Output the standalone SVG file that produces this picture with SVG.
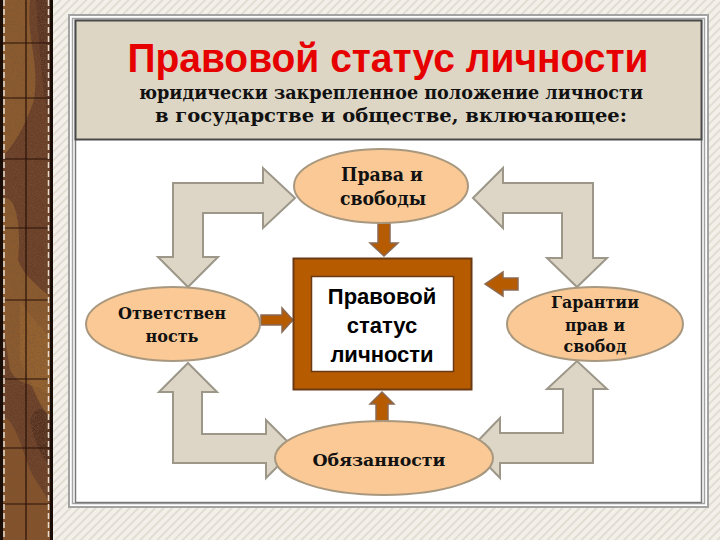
<svg xmlns="http://www.w3.org/2000/svg" width="720" height="540" viewBox="0 0 720 540">
<defs>
  <pattern id="hatch" width="6" height="6" patternUnits="userSpaceOnUse" patternTransform="rotate(45)">
    <rect width="6" height="6" fill="#f3f0ea"/>
    <rect width="2" height="6" fill="#e2ddd3"/>
  </pattern>
  <filter id="grain" x="0" y="0" width="100%" height="100%" filterUnits="objectBoundingBox">
    <feTurbulence type="fractalNoise" baseFrequency="1.1" numOctaves="2" seed="5" result="n"/>
    <feColorMatrix in="n" type="matrix" values="0 0 0 0 0.18  0 0 0 0 0.09  0 0 0 0 0.04  1.6 0 0 0 -0.6"/>
  </filter>
  <style>
    .ell { fill: #fbc995; stroke: #a8987f; stroke-width: 2; }
    .gray { fill: #ddd6c6; stroke: #9d978a; stroke-width: 2; stroke-linejoin: miter; }
    .brn { fill: #b65b00; stroke: #8a6a55; stroke-width: 1.5; }
    .slab { font-family: "DejaVu Serif", "Liberation Serif", serif; font-weight: bold; fill: #111; text-anchor: middle; }
    .sans { font-family: "Liberation Sans", Arial, sans-serif; font-weight: bold; fill: #000; text-anchor: middle; }
    .grid { stroke: #2a1208; stroke-width: 1.2; }
  </style>
</defs>

<!-- background -->
<rect x="0" y="0" width="720" height="540" fill="url(#hatch)"/>

<!-- left textured strip -->
<g id="strip">
  <rect x="0" y="0" width="53" height="540" fill="#6a3e27"/>
  <path d="M0,0 H30 C26,40 40,60 34,100 C20,140 8,150 0,160 Z" fill="#93602f" opacity="0.85"/>
  <path d="M0,200 C14,190 22,220 18,260 C26,280 44,290 53,300 V400 C40,380 20,390 10,370 C4,330 0,300 0,290 Z" fill="#93602f" opacity="0.85"/>
  <path d="M20,300 C30,320 50,330 53,350 V420 C40,410 30,380 20,360 Z" fill="#9a652f" opacity="0.8"/>
  <path d="M0,420 C10,410 20,440 30,470 C40,490 53,500 53,520 V540 H0 Z" fill="#8a562b" opacity="0.85"/>
  <path d="M30,420 C38,400 50,410 53,430 V470 C45,460 36,450 30,420 Z" fill="#55301f"/>
  <path d="M36,0 H53 V140 C44,110 40,60 36,0 Z" fill="#5a3322"/>
  <rect x="0" y="0" width="53" height="540" fill="#000" filter="url(#grain)"/>
  <g class="grid">
    <line x1="26" y1="0" x2="26" y2="540"/>
    <line x1="2" y1="43" x2="51" y2="43"/>
    <line x1="2" y1="98" x2="51" y2="98"/>
    <line x1="2" y1="159" x2="51" y2="159"/>
    <line x1="2" y1="228" x2="51" y2="228"/>
    <line x1="2" y1="300" x2="51" y2="300"/>
    <line x1="2" y1="379" x2="51" y2="379"/>
    <line x1="2" y1="448" x2="51" y2="448"/>
    <line x1="2" y1="504" x2="51" y2="504"/>
  </g>
  <rect x="0" y="0" width="3" height="540" fill="#1a0c06"/>
  <line x1="4" y1="0" x2="4" y2="540" stroke="#e8ddd0" stroke-width="1.5" stroke-dasharray="6 3"/>
  <line x1="48.5" y1="0" x2="48.5" y2="540" stroke="#e8ddd0" stroke-width="1.5" stroke-dasharray="6 3"/>
  <rect x="50" y="0" width="3" height="540" fill="#1a0c06"/>
</g>

<!-- frame -->
<g id="frame">
  <rect x="69" y="15" width="639" height="492" fill="#ffffff" stroke="#a3a3a3" stroke-width="2"/>
  <rect x="72.5" y="18.5" width="632" height="485" fill="none" stroke="#a3a3a3" stroke-width="1.5"/>
  <rect x="75.5" y="20.5" width="626" height="482" fill="#ffffff" stroke="#7a7a7a" stroke-width="1.5"/>
</g>

<!-- title panel -->
<g id="title">
  <rect x="75.5" y="20.5" width="626" height="119" fill="#ddd6c5" stroke="#4a4a4a" stroke-width="2"/>
  <text x="388" y="72" font-family="'Liberation Sans', Arial, sans-serif" font-weight="bold" font-size="41" fill="#e60000" text-anchor="middle" textLength="521" lengthAdjust="spacingAndGlyphs">Правовой статус личности</text>
  <text class="slab" x="391" y="99" font-size="19" textLength="504" lengthAdjust="spacingAndGlyphs">юридически закрепленное положение личности</text>
  <text class="slab" x="391" y="122" font-size="19" textLength="472" lengthAdjust="spacingAndGlyphs">в государстве и обществе, включающее:</text>
</g>

<!-- connectors -->
<g id="connectors">
  <path class="gray" d="M295,198 L263,168 L263,183 L173,183 L173,257 L158,257 L188,287 L218,257 L203,257 L203,213 L263,213 L263,228 Z"/>
  <path class="gray" d="M473,198 L503,168 L503,183 L593,183 L593,258 L607,258 L577,287 L547,258 L562,258 L562,213 L503,213 L503,228 Z"/>
  <path class="gray" d="M188,363 L217,392 L202,392 L202,434 L266,434 L266,420 L295,449 L266,478 L266,463 L173,463 L173,392 L159,392 Z"/>
  <path class="gray" d="M471,448 L500,418 L500,433 L563,433 L563,389 L547,389 L577,361 L607,389 L593,389 L593,463 L500,463 L500,478 Z"/>
  <path class="brn" d="M378,223 H390 V243 H398 L384,256 L370,243 H378 Z"/>
  <path class="brn" d="M518,278 V290 H503 V296 L485,284 L503,272 V278 Z"/>
  <path class="brn" d="M261,315 H282 V308 L293,320 L282,332 V325 H261 Z"/>
  <path class="brn" d="M376,425 V404 H370 L382,392 L394,404 H388 V425 Z"/>
</g>

<!-- center box -->
<g id="center">
  <rect x="293.5" y="258.5" width="178" height="131" fill="#b65b00" stroke="#6a3a14" stroke-width="2"/>
  <rect x="311.5" y="276.5" width="142" height="95" fill="#ffffff" stroke="#6a3a14" stroke-width="1.5"/>
  <text class="sans" x="382" y="304" font-size="22">Правовой</text>
  <text class="sans" x="382" y="333" font-size="22">статус</text>
  <text class="sans" x="382" y="362" font-size="22">личности</text>
</g>

<g id="rights">
  <ellipse class="ell" cx="381" cy="186" rx="87" ry="37"/>
  <text class="slab" x="382" y="181" font-size="18" textLength="82" lengthAdjust="spacingAndGlyphs">Права и</text>
  <text class="slab" x="383" y="205" font-size="18" textLength="86" lengthAdjust="spacingAndGlyphs">свободы</text>
</g>

<g id="responsibility">
  <ellipse class="ell" cx="173" cy="324" rx="87" ry="37"/>
  <text class="slab" x="172" y="319" font-size="17" textLength="108" lengthAdjust="spacingAndGlyphs">Ответствен</text>
  <text class="slab" x="172" y="342" font-size="17" textLength="53" lengthAdjust="spacingAndGlyphs">ность</text>
</g>

<g id="guarantees">
  <ellipse class="ell" cx="595" cy="324" rx="88" ry="37"/>
  <text class="slab" x="595" y="308" font-size="16" textLength="88" lengthAdjust="spacingAndGlyphs">Гарантии</text>
  <text class="slab" x="595" y="331" font-size="16" textLength="60" lengthAdjust="spacingAndGlyphs">прав и</text>
  <text class="slab" x="595" y="352" font-size="16" textLength="63" lengthAdjust="spacingAndGlyphs">свобод</text>
</g>

<g id="duties">
  <ellipse class="ell" cx="384" cy="458" rx="109" ry="37"/>
  <text class="slab" x="379" y="466" font-size="17" textLength="133" lengthAdjust="spacingAndGlyphs">Обязанности</text>
</g>
</svg>
